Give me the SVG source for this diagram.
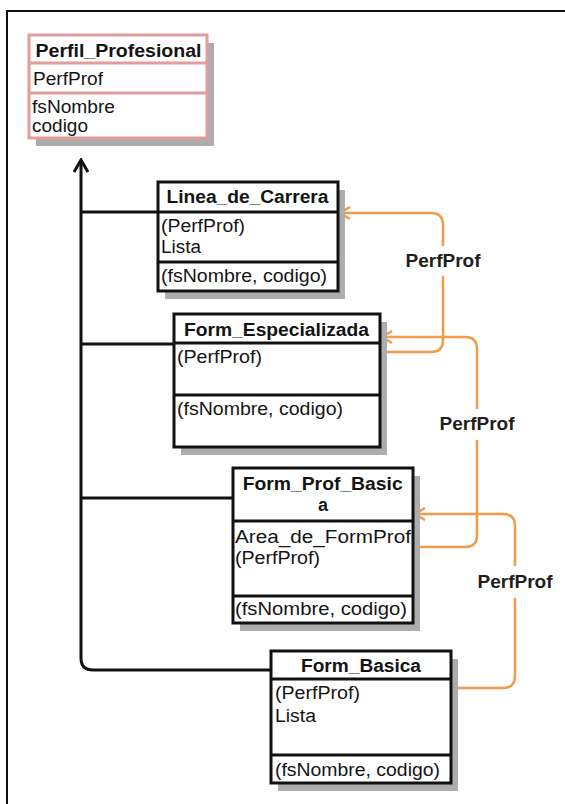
<svg xmlns="http://www.w3.org/2000/svg" width="565" height="804" viewBox="0 0 565 804">
  <style>
    .shadow { fill: #adadad; }
    .box { fill: #ffffff; stroke: #111111; stroke-width: 3; }
    .pink { fill: #ffffff; stroke: #e39c9c; stroke-width: 3; }
    .div { stroke: #111111; stroke-width: 3; }
    .divp { stroke: #e39c9c; stroke-width: 3; }
    text { font-family: "Liberation Sans", Arial, sans-serif; font-size: 18px; fill: #141414; }
    .hd { font-weight: bold; text-anchor: middle; }
    .lbl { font-weight: bold; text-anchor: middle; fill: #1e1e1e; }
    .gen { fill: none; stroke: #111111; stroke-width: 3; }
    .dep { fill: none; stroke: #f29c4a; stroke-width: 2.5; }
  </style>
  <defs>
    <marker id="openBlack" viewBox="0 0 16 16" refX="14" refY="8" markerWidth="16" markerHeight="16" markerUnits="userSpaceOnUse" orient="auto">
      <path d="M2,1 L14,8 L2,15" fill="none" stroke="#111111" stroke-width="3"/>
    </marker>
    <marker id="openOrange" viewBox="0 0 14 14" refX="12" refY="7" markerWidth="14" markerHeight="14" markerUnits="userSpaceOnUse" orient="auto">
      <path d="M2,1 L12,7 L2,13" fill="none" stroke="#f29c4a" stroke-width="2.5"/>
    </marker>
  </defs>

  <rect width="565" height="804" fill="#ffffff"/>
  <!-- outer frame -->
  <path d="M7,804 V11 H565" fill="none" stroke="#111111" stroke-width="2"/>

  <!-- connectors -->
  <g id="connectors">
    <!-- generalisation lines -->
    <path class="gen" d="M271,670 H93 Q81,670 81,658 V160" marker-end="url(#openBlack)"/>
    <line class="gen" x1="81" y1="212" x2="158" y2="212"/>
    <line class="gen" x1="81" y1="344" x2="174" y2="344"/>
    <line class="gen" x1="81" y1="498" x2="233" y2="498"/>

    <!-- PerfProf references -->
    <path class="dep" d="M380,352 H431 Q443,352 443,340 V276"/>
    <path class="dep" d="M443,246 V225 Q443,213 431,213 H340" marker-end="url(#openOrange)"/>
    <text class="lbl" x="443" y="267" textLength="75" lengthAdjust="spacingAndGlyphs">PerfProf</text>

    <path class="dep" d="M413,547 H465 Q477,547 477,535 V440"/>
    <path class="dep" d="M477,409 V349 Q477,337 465,337 H382" marker-end="url(#openOrange)"/>
    <text class="lbl" x="477" y="430" textLength="75" lengthAdjust="spacingAndGlyphs">PerfProf</text>

    <path class="dep" d="M451,688 H503 Q515,688 515,676 V598"/>
    <path class="dep" d="M515,566 V526 Q515,514 503,514 H415" marker-end="url(#openOrange)"/>
    <text class="lbl" x="515" y="588" textLength="75" lengthAdjust="spacingAndGlyphs">PerfProf</text>
  </g>

  <!-- Perfil_Profesional -->
  <g id="perfil_profesional">
    <rect class="shadow" x="36" y="43" width="178" height="103"/>
    <rect class="pink" x="29" y="35" width="178" height="103"/>
    <line class="divp" x1="29" y1="63" x2="207" y2="63"/>
    <line class="divp" x1="29" y1="93" x2="207" y2="93"/>
    <text class="hd" x="118.5" y="57" textLength="166" lengthAdjust="spacingAndGlyphs">Perfil_Profesional</text>
    <text x="33" y="85" textLength="70" lengthAdjust="spacingAndGlyphs">PerfProf</text>
    <text x="32" y="113" textLength="83" lengthAdjust="spacingAndGlyphs">fsNombre</text>
    <text x="32" y="132" textLength="56" lengthAdjust="spacingAndGlyphs">codigo</text>
  </g>

  <!-- Linea_de_Carrera -->
  <g id="linea_de_carrera">
    <rect class="shadow" x="165" y="190" width="180" height="109"/>
    <rect class="box" x="158" y="182" width="180" height="109"/>
    <line class="div" x1="158" y1="212" x2="338" y2="212"/>
    <line class="div" x1="158" y1="262" x2="338" y2="262"/>
    <text class="hd" x="247.5" y="203" textLength="162" lengthAdjust="spacingAndGlyphs">Linea_de_Carrera</text>
    <text x="161" y="232" textLength="84" lengthAdjust="spacingAndGlyphs">(PerfProf)</text>
    <text x="161" y="253" textLength="40" lengthAdjust="spacingAndGlyphs">Lista</text>
    <text x="161" y="282" textLength="166" lengthAdjust="spacingAndGlyphs">(fsNombre, codigo)</text>
  </g>

  <!-- Form_Especializada -->
  <g id="form_especializada">
    <rect class="shadow" x="181" y="322" width="206" height="133"/>
    <rect class="box" x="174" y="314" width="206" height="133"/>
    <line class="div" x1="174" y1="343" x2="380" y2="343"/>
    <line class="div" x1="174" y1="395" x2="380" y2="395"/>
    <text class="hd" x="276.5" y="336" textLength="185" lengthAdjust="spacingAndGlyphs">Form_Especializada</text>
    <text x="177" y="363" textLength="85" lengthAdjust="spacingAndGlyphs">(PerfProf)</text>
    <text x="177" y="415" textLength="166" lengthAdjust="spacingAndGlyphs">(fsNombre, codigo)</text>
  </g>

  <!-- Form_Prof_Basica -->
  <g id="form_prof_basica">
    <rect class="shadow" x="240" y="476" width="180" height="155"/>
    <rect class="box" x="233" y="468" width="180" height="155"/>
    <line class="div" x1="233" y1="521" x2="413" y2="521"/>
    <line class="div" x1="233" y1="596" x2="413" y2="596"/>
    <text class="hd" x="322.7" y="490" textLength="160" lengthAdjust="spacingAndGlyphs">Form_Prof_Basic</text>
    <text class="hd" x="323" y="511">a</text>
    <text x="235" y="543" textLength="176" lengthAdjust="spacingAndGlyphs">Area_de_FormProf</text>
    <text x="235" y="564" textLength="85" lengthAdjust="spacingAndGlyphs">(PerfProf)</text>
    <text x="235" y="615" textLength="172" lengthAdjust="spacingAndGlyphs">(fsNombre, codigo)</text>
  </g>

  <!-- Form_Basica -->
  <g id="form_basica">
    <rect class="shadow" x="278" y="659" width="180" height="132"/>
    <rect class="box" x="271" y="651" width="180" height="132"/>
    <line class="div" x1="271" y1="679" x2="451" y2="679"/>
    <line class="div" x1="271" y1="755" x2="451" y2="755"/>
    <text class="hd" x="361" y="672" textLength="120" lengthAdjust="spacingAndGlyphs">Form_Basica</text>
    <text x="275" y="699" textLength="85" lengthAdjust="spacingAndGlyphs">(PerfProf)</text>
    <text x="275" y="722" textLength="41" lengthAdjust="spacingAndGlyphs">Lista</text>
    <text x="275" y="776" textLength="165" lengthAdjust="spacingAndGlyphs">(fsNombre, codigo)</text>
  </g>
</svg>
